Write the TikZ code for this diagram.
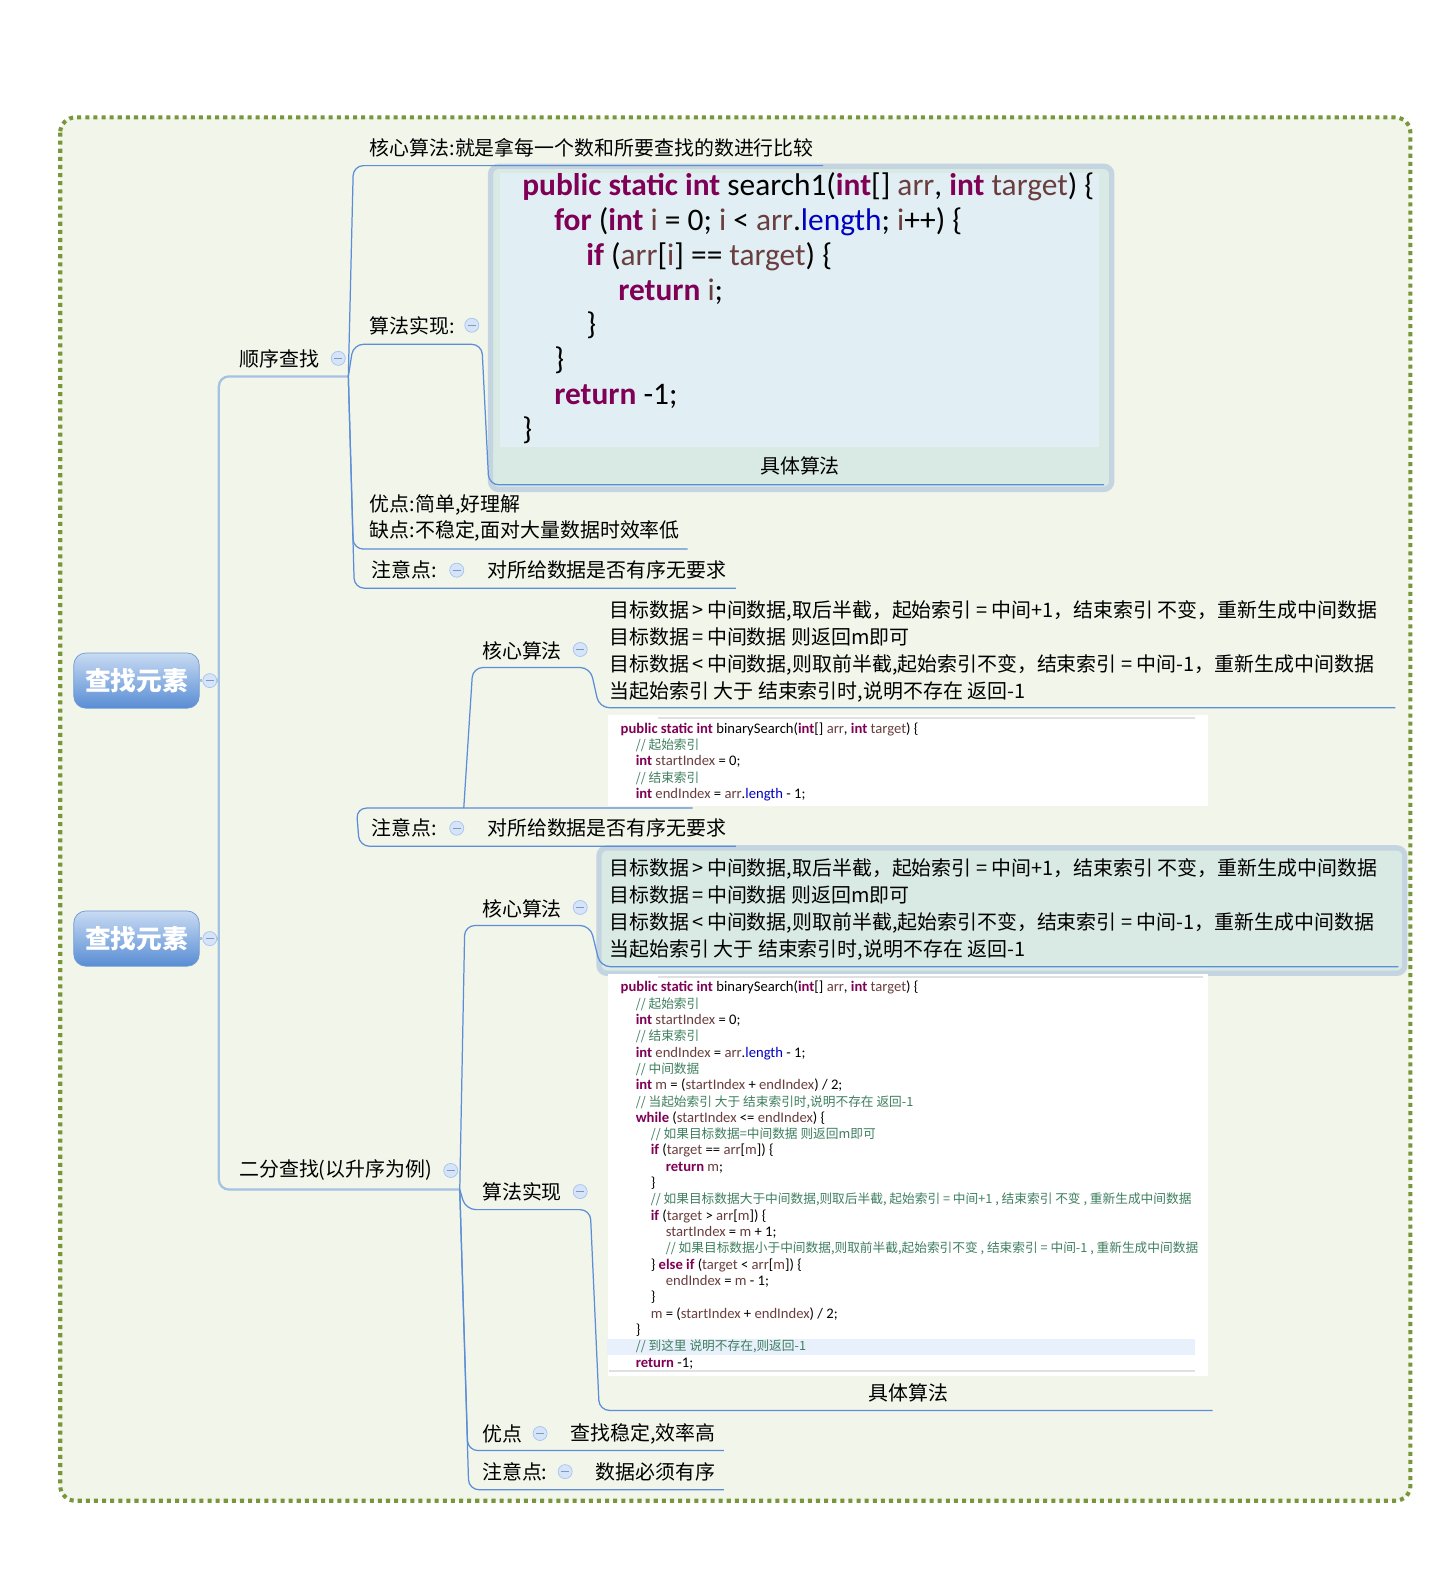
\documentclass[tikz,border=0pt]{standalone}
\usepackage{fontspec}
\setmainfont{Noto Sans CJK SC}
\newfontfamily\cjk{Noto Sans CJK SC}
\newfontfamily\codefont{Carlito}
\usepackage{tikz}
\definecolor{mapbg}{RGB}{242,245,234}
\definecolor{mapborder}{RGB}{120,150,58}
\definecolor{topictop}{RGB}{200,219,243}
\definecolor{topicbottom}{RGB}{88,141,212}
\definecolor{topicline}{RGB}{112,152,210}
\definecolor{branchblue}{RGB}{92,142,216}
\definecolor{trunkblue}{RGB}{164,194,226}
\definecolor{foldfill}{RGB}{214,228,250}
\definecolor{foldline}{RGB}{168,196,238}
\definecolor{foldminus}{RGB}{130,152,190}
\definecolor{boxline}{RGB}{196,212,224}
\definecolor{boxfill}{RGB}{217,233,228}
\definecolor{codebg}{RGB}{225,239,244}
\definecolor{kwpurple}{RGB}{127,0,85}
\definecolor{varbrown}{RGB}{106,62,62}
\definecolor{fieldblue}{RGB}{0,0,192}
\definecolor{cmtgreen}{RGB}{63,127,95}
\definecolor{hlblue}{RGB}{232,240,251}

% java colouring
\newcommand\jkw[1]{{\bfseries\color{kwpurple}#1}}
\newcommand\jvar[1]{{\color{varbrown}#1}}
\newcommand\jfld[1]{{\color{fieldblue}#1}}
\newcommand\jcmt[1]{{\cjk\fontsize{7.2}{9.25}\selectfont\color{cmtgreen}#1}}
\newlength\codeind \setlength\codeind{0.3cm}

\newcommand\coretext{目标数据\,>\,中间数据,取后半截，起始索引 = 中间+1，结束索引 不变，重新生成中间数据\\
目标数据\,=\,中间数据 则返回m即可\\
目标数据\,<\,中间数据,则取前半截,起始索引不变，结束索引 = 中间-1，重新生成中间数据\\
当起始索引 大于 结束索引时,说明不存在 返回-1}

\newcommand\binhead{\jkw{public static int} binarySearch(\jkw{int}[] \jvar{arr}, \jkw{int} \jvar{target}) \{\\
\hspace*{\codeind}\jcmt{// 起始索引}\\
\hspace*{\codeind}\jkw{int} \jvar{startIndex} = 0;\\
\hspace*{\codeind}\jcmt{// 结束索引}\\
\hspace*{\codeind}\jkw{int} \jvar{endIndex} = \jvar{arr}.\jfld{length} - 1;}

\begin{document}
\begin{tikzpicture}[x=0.02cm, y=-0.02cm,
    topic/.style={rounded corners=0.24cm, draw=topicline, top color=topictop, bottom color=topicbottom,
      minimum width=2.5cm, minimum height=1.1cm, text=white, font=\fontsize{14.6}{16}\selectfont\bfseries},
    fold/.style={circle, draw=foldline, fill=foldfill, minimum size=0.28cm, inner sep=0,
      path picture={\draw[foldminus, line width=0.6pt] ([xshift=-2.3pt]path picture bounding box.center) -- ([xshift=2.3pt]path picture bounding box.center);}},
    lbl/.style={anchor=west, inner sep=0, font=\fontsize{11.3}{15.4}\selectfont},
    branch/.style={draw=branchblue, line width=0.7pt, rounded corners=0.2cm},
    trunk/.style={draw=trunkblue, line width=1.3pt, rounded corners=0.2cm},
    infobox/.style={draw=boxline, line width=3pt, fill=boxfill, rounded corners=0.16cm, anchor=north west, inner sep=0},
    codeimg/.style={fill=white, anchor=north west, inner sep=0},
    code/.style={anchor=north west, inner sep=0, align=left, font=\codefont\fontsize{8.3}{9.25}\selectfont}]

  \fill[white] (0,0) rectangle (1449,1568);
  \useasboundingbox (0,0) rectangle (1449,1568);
  \draw[mapborder, fill=mapbg, line width=2.3pt, dash pattern=on 2.3pt off 2.3pt, rounded corners=0.3cm] (60,117) rectangle (1405,1495);

  % roots
  \node[topic] (root1) at (136,678) {查找元素};
  \node[topic] (root2) at (136,935) {查找元素};
  \node[fold] (froot1) at (209,678) {};
  \node[fold] (froot2) at (209,935) {};
  \coordinate (sxend) at (347,375);
  \coordinate (efend) at (458,1185);
  \draw[trunk] (root1.east) -- (froot1.west);
  \draw[trunk] (root2.east) -- (froot2.west);
  \draw[trunk] (froot1.east) -- (218,678);
  \draw[trunk] (froot2.east) -- (218,935);
  \draw[trunk] (sxend) -- (218,375) -- (218,1185) -- (efend);

  % boxes and pictures
  \node[infobox, minimum width=12.38cm, minimum height=6.44cm] (box1) at (486,163) {};
  \node[fill=codebg, inner sep=0, anchor=north west, minimum width=11.94cm, minimum height=5.46cm] (box1code) at (498,172) {};
  \node[infobox, minimum width=16.06cm, minimum height=2.5cm] (box2) at (594,842) {};
  \node[codeimg, minimum width=11.96cm, minimum height=1.82cm] (img1) at (605,712) {};
  \node[codeimg, minimum width=11.96cm, minimum height=8cm] (img2) at (605,970) {};
  \draw[black!12, line width=1.2pt] (655,715) -- (1190,715);
  \draw[black!12, line width=1.2pt] (655,973) -- (1198,973);
  \draw[black!12, line width=1.2pt] (607,1366) -- (1190,1366);
  \fill[hlblue] (605,1334) rectangle (1190,1350);

  % sequential search
  \node[lbl] (sx) at (238,358) {顺序查找};
  \node[fold] (fsx) at (337,357) {};
  \node[lbl] (hx1) at (368,147) {核心算法:就是拿每一个数和所要查找的数进行比较};
  \node[lbl] (sf1) at (368,325) {算法实现:};
  \node[fold] (fsf1) at (470,324) {};
  \node[lbl, align=left] (yd1) at (368,516) {优点:简单,好理解\\[-0.5pt]缺点:不稳定,面对大量数据时效率低};
  \node[lbl] (zy1) at (370,568) {注意点:};
  \node[fold] (fzy1) at (455,568) {};
  \node[lbl] (zy1v) at (485,568) {对所给数据是否有序无要求};
  \draw[branch] (sxend) -- (352,165) -- (820,165);
  \draw[branch] (sxend) -- (352,343) -- (480,343) -- (487,483) -- (1100,483);
  \draw[branch] (sxend) -- (352,547) -- (685,547);
  \draw[branch] (sxend) -- (353,586) -- (733,586);

  \node[code, font=\codefont\fontsize{17.8}{19.7}\selectfont] (code1) at (520,172) {%
\jkw{public static int} search1(\jkw{int}[] \jvar{arr}, \jkw{int} \jvar{target}) \{\\
\hspace*{18.1pt}\jkw{for} (\jkw{int} \jvar{i} = 0; \jvar{i} < \jvar{arr}.\jfld{length}; \jvar{i}++) \{\\
\hspace*{36.3pt}\jkw{if} (\jvar{arr}[\jvar{i}] == \jvar{target}) \{\\
\hspace*{54.4pt}\jkw{return} \jvar{i};\\
\hspace*{36.3pt}\}\\
\hspace*{18.1pt}\}\\
\hspace*{18.1pt}\jkw{return} -1;\\
\}};
  \node[lbl, anchor=center] (cap1) at (797,464) {具体算法};

  % left over copy
  \node[lbl] (hx2) at (480,648) {核心算法};
  \node[fold] (fhx2) at (578,647) {};
  \node[lbl, align=left, font=\fontsize{11.3}{15.36}\selectfont] (core2) at (607,649) {\coretext};
  \node[code] (bin1) at (618,719.5) {\binhead};
  \draw[branch] (462,805) -- (471,665) -- (588,665) -- (597,705) -- (1390,705);
  \draw[branch] (690,805) -- (355,805) -- (358,843) -- (733,843);
  \node[lbl] (zy2) at (370,825) {注意点:};
  \node[fold] (fzy2) at (455,825) {};
  \node[lbl] (zy2v) at (485,825) {对所给数据是否有序无要求};

  % binary search
  \node[lbl] (ef) at (238,1166) {二分查找(以升序为例)};
  \node[fold] (fef) at (449,1166) {};
  \node[lbl] (hx3) at (480,905) {核心算法};
  \node[fold] (fhx3) at (578,904) {};
  \node[lbl, align=left, font=\fontsize{11.3}{15.36}\selectfont] (core3) at (607,906) {\coretext};
  \node[lbl] (sf3) at (480,1187) {算法实现};
  \node[fold] (fsf3) at (578,1187) {};
  \node[lbl, anchor=center] (cap3) at (905,1388) {具体算法};
  \node[lbl] (yd3) at (480,1428) {优点};
  \node[fold] (fyd3) at (538,1428) {};
  \node[lbl] (yd3v) at (568,1428) {查找稳定,效率高};
  \node[lbl] (zy3) at (480,1466) {注意点:};
  \node[fold] (fzy3) at (563,1466) {};
  \node[lbl] (zy3v) at (593,1466) {数据必须有序};
  \draw[branch] (efend) -- (463,922) -- (588,922) -- (598,963) -- (1393,963);
  \draw[branch] (efend) -- (464,1205) -- (588,1205) -- (597,1405) -- (1208,1405);
  \draw[branch] (efend) -- (466,1445) -- (721,1445);
  \draw[branch] (efend) -- (467,1484) -- (721,1484);

  \node[code] (bin2) at (618,977) {\binhead\\
\hspace*{\codeind}\jcmt{// 中间数据}\\
\hspace*{\codeind}\jkw{int} \jvar{m} = (\jvar{startIndex} + \jvar{endIndex}) / 2;\\
\hspace*{\codeind}\jcmt{// 当起始索引 大于 结束索引时,说明不存在 返回-1}\\
\hspace*{\codeind}\jkw{while} (\jvar{startIndex} <= \jvar{endIndex}) \{\\
\hspace*{2\codeind}\jcmt{// 如果目标数据=中间数据 则返回m即可}\\
\hspace*{2\codeind}\jkw{if} (\jvar{target} == \jvar{arr}[\jvar{m}]) \{\\
\hspace*{3\codeind}\jkw{return} \jvar{m};\\
\hspace*{2\codeind}\}\\
\hspace*{2\codeind}\jcmt{// 如果目标数据大于中间数据,则取后半截, 起始索引 = 中间+1 , 结束索引 不变 , 重新生成中间数据}\\
\hspace*{2\codeind}\jkw{if} (\jvar{target} > \jvar{arr}[\jvar{m}]) \{\\
\hspace*{3\codeind}\jvar{startIndex} = \jvar{m} + 1;\\
\hspace*{3\codeind}\jcmt{// 如果目标数据小于中间数据,则取前半截,起始索引不变 , 结束索引 = 中间-1 , 重新生成中间数据}\\
\hspace*{2\codeind}\} \jkw{else if} (\jvar{target} < \jvar{arr}[\jvar{m}]) \{\\
\hspace*{3\codeind}\jvar{endIndex} = \jvar{m} - 1;\\
\hspace*{2\codeind}\}\\
\hspace*{2\codeind}\jvar{m} = (\jvar{startIndex} + \jvar{endIndex}) / 2;\\
\hspace*{\codeind}\}\\
\hspace*{\codeind}\jcmt{// 到这里 说明不存在,则返回-1}\\
\hspace*{\codeind}\jkw{return} -1;};
\end{tikzpicture}
\end{document}
